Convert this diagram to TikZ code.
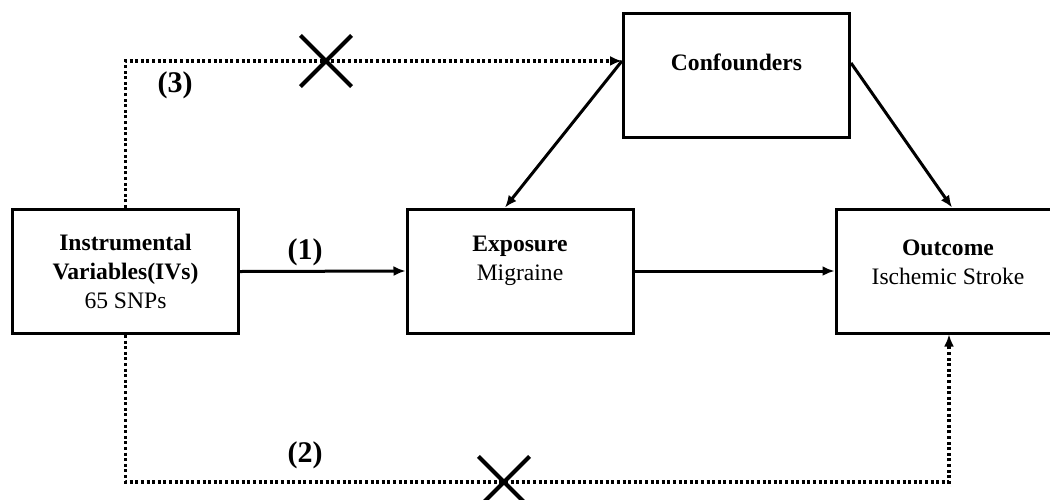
\documentclass[tikz,border=0pt]{standalone}
\usepackage{fontspec}
\setmainfont{Liberation Serif}
\usepackage{tikz}
\usetikzlibrary{arrows.meta, shapes.misc}
\tikzstyle{box}=[rectangle, draw=black, line width=1.5pt, minimum width=113pt, minimum height=62pt, inner sep=0pt]
\tikzstyle{txt}=[align=center, font=\fontsize{11.8}{14.5}\selectfont, inner sep=0pt]
\tikzstyle{num}=[font=\fontsize{15}{18}\selectfont\bfseries, inner sep=0pt]
\tikzstyle{link}=[line width=1.5pt, -{Latex[length=6pt,width=5pt]}]
\tikzstyle{dotlink}=[line width=1.7pt, dash pattern=on 1.5pt off 1.3pt, -{Latex[length=6pt,width=5pt]}]
\tikzstyle{nix}=[draw=black, cross out, line width=2.1pt, minimum size=23.5pt, inner sep=0pt]

\begin{document}
\begin{tikzpicture}[x=0.5pt, y=-0.5pt]
      \useasboundingbox (0,0) rectangle (1050,499);

      \node[box] (iv) at (125.5,271.5) {};
      \node[box] (expo) at (520,271) {};
      \node[box] (outc) at (949,271) {};
      \node[box] (conf) at (736.5,75) {};

      \node[txt] (ivt) at (125.5,271) {\textbf{Instrumental}\\\textbf{Variables(IVs)}\\65 SNPs};
      \node[txt] (expot) at (520,261) {\textbf{Exposure}\\Migraine};
      \node[txt] (outct) at (948,262) {\textbf{Outcome}\\Ischemic Stroke};
      \node[txt] (conft) at (736.5,62) {\textbf{Confounders}};

      \node[num] (n1) at (305,252) {(1)};
      \node[num] (n2) at (305,455) {(2)};
      \node[num] (n3) at (175,85) {(3)};

      \coordinate (bot) at (125.5,482);

      \draw[link] (iv.east) -- (expo.west);
      \draw[link] (expo.east) -- (outc.west);
      \draw[link] (conf.173.5) -- ([xshift=-7.5pt]expo.north);
      \draw[link] (conf.6.5) -- ([xshift=1.5pt]outc.north);

      \draw[dotlink] (iv.north) |- (conf.173.5);
      \draw[dotlink] (iv.south) -- (bot) -| (outc.south);

      \node[nix] (x3) at (326,61) {};
      \node[nix] (x2) at (504,482) {};
    \end{tikzpicture}
\end{document}
